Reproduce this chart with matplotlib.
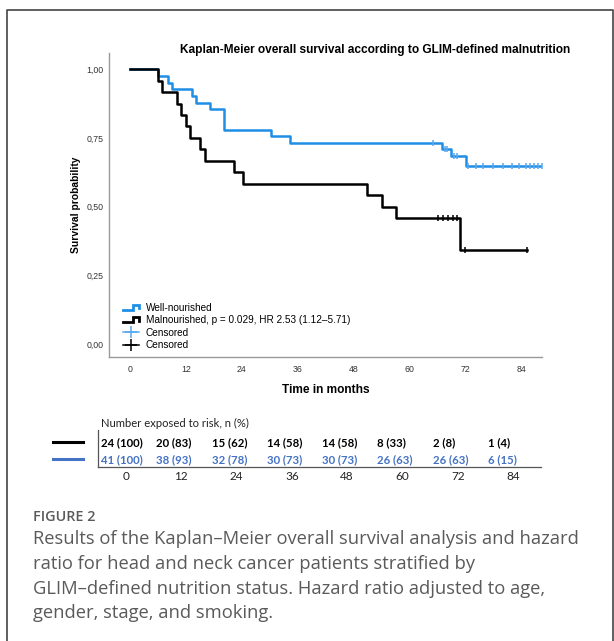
import matplotlib
matplotlib.use("Agg")
import matplotlib.pyplot as plt
from matplotlib.lines import Line2D
from matplotlib.legend_handler import HandlerBase
import numpy as np

# ---- data ----
mal_times = [0, 6.1, 6.8, 10.1, 11.0, 12.0, 13.0, 15.1, 16.1, 22.3, 24.3, 50.9, 54.1, 57.1, 70.9]
mal_surv = [1.0, 0.958, 0.917, 0.875, 0.833, 0.792, 0.750, 0.708, 0.667, 0.625, 0.583, 0.542, 0.500, 0.458, 0.344]
mal_censor = [66.1, 67.2, 68.3, 69.4, 70.3, 71.9, 85.2]

well_times = [0, 6.1, 8.2, 9.1, 13.3, 14.1, 17.3, 20.2, 30.4, 34.4, 67.0, 69.0, 72.1]
well_surv = [1.0, 0.976, 0.951, 0.927, 0.902, 0.878, 0.854, 0.780, 0.756, 0.732, 0.710, 0.684, 0.648]
well_censor = [65.0, 67.6, 68.2, 69.6, 70.2, 72.5, 74.3, 75.8, 78.0, 80.2, 82.0, 83.5,
               85.0, 86.0, 86.8, 87.6, 88.4]

risk_months = [0, 12, 24, 36, 48, 60, 72, 84]
risk_mal = ["24 (100)", "20 (83)", "15 (62)", "14 (58)", "14 (58)", "8 (33)", "2 (8)", "1 (4)"]
risk_well = ["41 (100)", "38 (93)", "32 (78)", "30 (73)", "30 (73)", "26 (63)", "26 (63)", "6 (15)"]

yticks = [0.0, 0.25, 0.50, 0.75, 1.0]
ytick_labels = ["0,00", "0,25", "0,50", "0,75", "1,00"]

BLUE = "#1f8fe6"
BLUE_C = "#5aa8f0"
TBL_BLUE = "#4472c4"

W, H = 614, 641
fig = plt.figure(figsize=(W / 100, H / 100), dpi=100)


def fx(px):
    return px / W


def fy(py):
    return 1 - py / H


def km_curve(times, surv, censor):
    end = max(max(times), max(censor))
    x = list(times) + [end]
    y = list(surv) + [surv[-1]]
    cy = [surv[np.searchsorted(times, c, side="right") - 1] for c in censor]
    return x, y, cy


class StepHandler(HandlerBase):
    def create_artists(self, legend, orig_handle, xdescent, ydescent,
                       width, height, fontsize, trans):
        w, h = width, height
        xs = np.array([0, 0.62, 0.62, 1.0, 1.0]) * w - xdescent
        ys = np.array([0.15, 0.15, 0.85, 0.85, 0.4]) * h - ydescent
        ln = Line2D(xs, ys, color=orig_handle.get_color(), lw=2.0,
                    solid_joinstyle="miter")
        ln.set_transform(trans)
        return [ln]


# ---- main plot ----
ax = fig.add_axes([fx(109), fy(357), fx(542) - fx(109), fy(53) - fy(357)])

x, y, cy = km_curve(well_times, well_surv, well_censor)
l_well, = ax.step(x, y, where="post", color=BLUE, lw=1.8)
ax.plot(well_censor, cy, ls="none", marker="|", ms=5, mew=1.1, color=BLUE_C)

x, y, cy = km_curve(mal_times, mal_surv, mal_censor)
l_mal, = ax.step(x, y, where="post", color="black", lw=1.8)
ax.plot(mal_censor, cy, ls="none", marker="|", ms=5, mew=1.1, color="black")

ax.set_xlim(-4.5, 88.5)
ax.set_ylim(-0.047, 1.059)
ax.set_xticks(risk_months)
ax.set_yticks(yticks)
ax.set_yticklabels(ytick_labels)
ax.tick_params(length=0, labelsize=6.3, colors="#333333", pad=4)
ax.tick_params(axis="x", pad=6)
for s in ["top", "right"]:
    ax.spines[s].set_visible(False)
for s in ["left", "bottom"]:
    ax.spines[s].set_color("#999999")
    ax.spines[s].set_linewidth(1.0)
for lab in ax.get_xticklabels() + ax.get_yticklabels():
    lab.set_family("Liberation Sans")

ax.set_xlabel("Time in months", fontsize=8.6, fontweight="bold",
              family="Liberation Sans", labelpad=7)
ax.set_ylabel("Survival probability", fontsize=7.4, fontweight="bold",
              family="Liberation Sans", labelpad=4)
fig.text(fx(375), fy(50), "Kaplan-Meier overall survival according to GLIM-defined malnutrition",
         ha="center", va="center", fontsize=8.6, fontweight="bold", family="Liberation Sans")

h_cw = Line2D([], [], color=BLUE_C, marker="+", ms=9, mew=1.1, lw=1.1)
h_cb = Line2D([], [], color="black", marker="+", ms=9, mew=1.1, lw=1.1)
leg = ax.legend([l_well, l_mal, h_cw, h_cb],
                ["Well-nourished", "Malnourished, p = 0.029, HR 2.53 (1.12\u20135.71)",
                 "Censored", "Censored"],
                handler_map={l_well: StepHandler(), l_mal: StepHandler()},
                loc="lower left", bbox_to_anchor=(0.032, 0.022), frameon=False,
                borderpad=0, borderaxespad=0, handlelength=1.6, handletextpad=0.7,
                labelspacing=0.25, prop={"family": "Liberation Sans", "size": 7.2})

# ---- risk table ----
tx0, tx84 = 126, 513
pxm = (tx84 - tx0) / 84
tab = fig.add_axes([fx(98), fy(467), fx(541) - fx(98), fy(430) - fy(467)])
tab.set_xlim(-(tx0 - 98) / pxm, (541 - tx0) / pxm)
tab.set_ylim(0, 1)
tab.set_xticks(risk_months)
tab.set_yticks([])
tab.tick_params(length=0, labelsize=8.5, pad=3, colors="#222222")
for lab in tab.get_xticklabels():
    lab.set_family("Lato")
for s in ["top", "right"]:
    tab.spines[s].set_visible(False)
tab.spines["left"].set_color("#555555")
tab.spines["bottom"].set_color("#555555")
tab.spines["left"].set_linewidth(0.9)
tab.spines["bottom"].set_linewidth(0.9)
tab.patch.set_alpha(0)

row_off = -25 / pxm
for m, a, b in zip(risk_months, risk_mal, risk_well):
    tab.text(m + row_off, 0.66, a, ha="left", va="center", fontsize=8.2,
             fontweight="bold", family="Lato", color="black")
    tab.text(m + row_off, 0.2, b, ha="left", va="center", fontsize=8.2,
             fontweight="bold", family="Lato", color=TBL_BLUE)

fig.text(fx(101), fy(423), "Number exposed to risk, n (%)", ha="left", va="center",
         fontsize=8.1, family="Lato", color="#222222")
fig.add_artist(Line2D([fx(53), fx(83)], [fy(442), fy(442)], color="black", lw=2.2))
fig.add_artist(Line2D([fx(53), fx(83)], [fy(459), fy(459)], color=TBL_BLUE, lw=2.2))

# ---- caption ----
fig.text(fx(33), fy(517), "FIGURE 2", ha="left", va="center", fontsize=10.4,
         family="Open Sans", color="#5a5a5a", fontweight="semibold")
caption = ["Results of the Kaplan\u2013Meier overall survival analysis and hazard",
           "ratio for head and neck cancer patients stratified by",
           "GLIM\u2013defined nutrition status. Hazard ratio adjusted to age,",
           "gender, stage, and smoking."]
for i, line in enumerate(caption):
    fig.text(fx(33), fy(539 + 24.8 * i), line, ha="left", va="center", fontsize=13.2,
             family="Open Sans", color="#5a5a5a")

# ---- frame ----
fig.add_artist(Line2D([fx(7), fx(7), fx(613), fx(613)], [0, fy(10), fy(10), 0],
                      color="#444444", lw=1.2))

fig.savefig("out.png", dpi=100)
